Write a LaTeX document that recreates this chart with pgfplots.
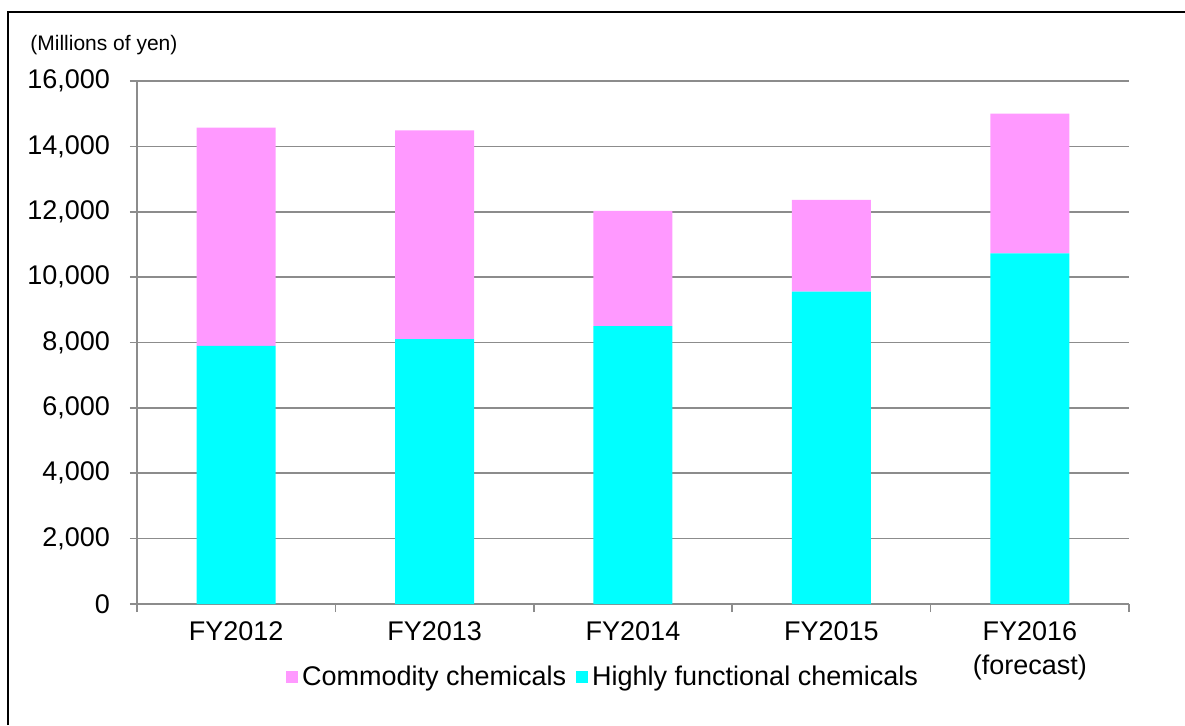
\documentclass[border=0pt]{standalone}
\usepackage{fontspec}
\setmainfont{Liberation Sans}
\usepackage{pgfplots}
\pgfplotsset{compat=1.18}
\definecolor{pinkc}{HTML}{FF99FF}
\definecolor{cyanc}{HTML}{00FFFF}
\definecolor{gridc}{HTML}{8C8C8C}
\begin{document}
\begin{tikzpicture}
\path[use as bounding box] (0,0) rectangle (592.5pt,362.5pt);
\draw[line width=1pt,black] (4pt,0) -- (4pt,356.5pt) -- (593pt,356.5pt);
\node[anchor=west,font=\fontsize{10.5}{12}\selectfont,inner sep=0pt] at (15pt,340pt) {(Millions of yen)};
\begin{axis}[
  at={(68.5pt,60.5pt)}, anchor=south west,
  scale only axis, width=496pt, height=261.5pt,
  ybar stacked, bar width=39.5pt,
  xmin=-0.5, xmax=4.5, ymin=0, ymax=16000,
  xtick={0,1,2,3,4},
  xticklabels={FY2012,FY2013,FY2014,FY2015,{FY2016\\(forecast)}},
  minor xtick={-0.5,0.5,1.5,2.5,3.5,4.5},
  major x tick style={draw=none},
  minor x tick style={gridc, line width=0.8pt},
  minor tick length=4pt,
  ytick={0,2000,...,16000},
  major tick length=3.5pt,
  tick align=outside,
  ymajorgrids, grid style={gridc, line width=0.8pt},
  axis x line*=bottom, axis y line*=left,
  axis line style={gridc, line width=0.8pt, -},
  y tick style={gridc, line width=0.8pt},
  scaled y ticks=false,
  /pgf/number format/.cd, 1000 sep={,}, assume math mode=true, /pgfplots/.cd,
  ticklabel style={font=\fontsize{13.5}{17}\selectfont},
  xticklabel style={align=center, yshift=-2pt},
  yticklabel style={xshift=-6.5pt},
  reverse legend,
  legend columns=2,
  legend style={at={(233.5pt,-36.5pt)}, anchor=center, draw=none, fill=none,
    font=\fontsize{13.5}{16}\selectfont,
    /tikz/every even column/.append style={column sep=3pt}},
  legend cell align=left,
  legend image code/.code={\fill (0pt,-3pt) rectangle (6pt,3pt);},
]
\addplot[fill=cyanc, draw=none] coordinates {(0,7900) (1,8100) (2,8500) (3,9560) (4,10730)};
\addlegendentry{Highly functional chemicals}
\addplot[fill=pinkc, draw=none] coordinates {(0,6670) (1,6390) (2,3530) (3,2800) (4,4270)};
\addlegendentry{Commodity chemicals}
\end{axis}
\end{tikzpicture}
\end{document}
